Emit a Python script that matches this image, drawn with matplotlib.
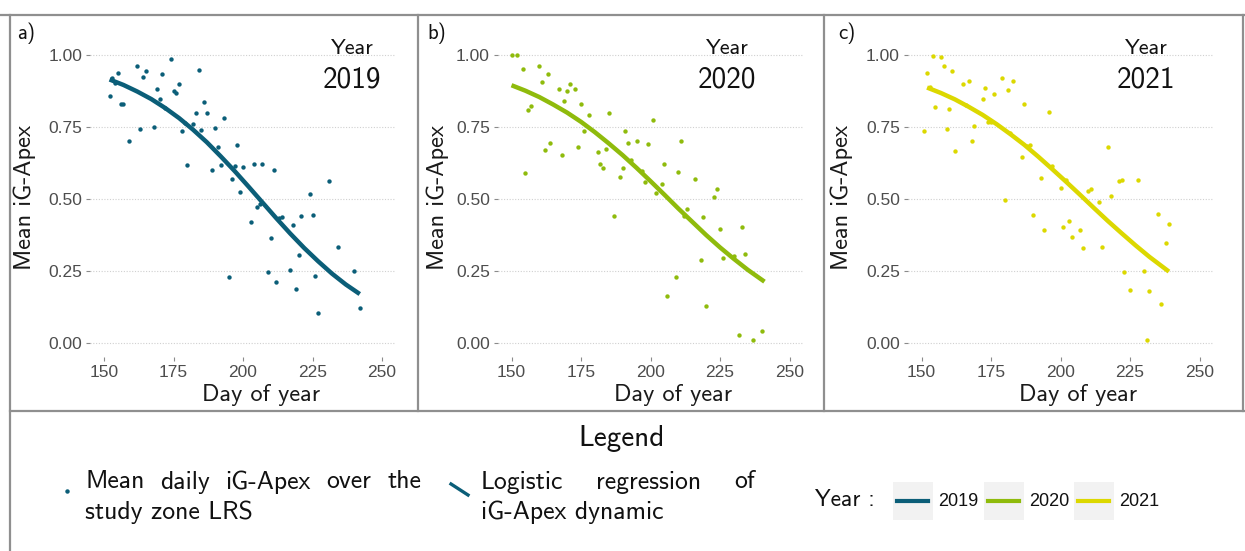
import matplotlib
matplotlib.use("Agg")
import matplotlib.pyplot as plt
from matplotlib.lines import Line2D
from matplotlib.patches import Rectangle

# --- data ---
years = ["2019", "2020", "2021"]
colors = ["#0b5e78", "#8fbb0c", "#dcd800"]
panel_tags = ["a)", "b)", "c)"]

day_2019 = [152, 153, 154, 155, 156, 157, 159, 162, 163, 164, 165, 168, 169, 170, 171, 172,
            174, 175, 176, 177, 178, 179, 180, 182, 183, 184, 185, 186, 187, 189, 190, 191,
            192, 193, 195, 196, 197, 198, 199, 200, 203, 204, 205, 206, 207, 209, 210, 211,
            212, 213, 214, 217, 218, 219, 220, 221, 224, 225, 226, 227, 231, 234, 240, 242]
apex_2019 = [0.859, 0.92, 0.904, 0.936, 0.830, 0.829, 0.702, 0.963, 0.742, 0.922, 0.943, 0.749,
             0.881, 0.846, 0.934, 0.815, 0.987, 0.875, 0.867, 0.901, 0.735, 0.763, 0.617, 0.762,
             0.797, 0.948, 0.739, 0.838, 0.799, 0.602, 0.745, 0.680, 0.618, 0.780, 0.229, 0.569,
             0.614, 0.687, 0.526, 0.610, 0.420, 0.620, 0.472, 0.482, 0.623, 0.245, 0.364, 0.600,
             0.212, 0.434, 0.439, 0.252, 0.409, 0.188, 0.304, 0.442, 0.518, 0.444, 0.231, 0.104,
             0.562, 0.333, 0.251, 0.123]

day_2020 = [150, 152, 154, 155, 156, 157, 160, 161, 162, 163, 164, 167, 168, 169, 170, 171,
            173, 174, 175, 176, 178, 181, 182, 183, 184, 185, 187, 189, 190, 191, 192, 193,
            195, 197, 198, 199, 201, 202, 204, 205, 206, 209, 210, 211, 212, 213, 216, 218,
            219, 220, 223, 224, 225, 226, 230, 232, 233, 234, 237, 240]
apex_2020 = [1.0, 1.0, 0.950, 0.590, 0.808, 0.822, 0.963, 0.905, 0.669, 0.933, 0.694, 0.883,
             0.653, 0.842, 0.876, 0.900, 0.883, 0.680, 0.831, 0.735, 0.791, 0.663, 0.621, 0.609,
             0.674, 0.798, 0.441, 0.576, 0.609, 0.736, 0.695, 0.634, 0.701, 0.597, 0.559, 0.692,
             0.776, 0.521, 0.553, 0.621, 0.163, 0.230, 0.594, 0.701, 0.440, 0.464, 0.571, 0.287,
             0.437, 0.129, 0.506, 0.534, 0.397, 0.295, 0.301, 0.028, 0.403, 0.309, 0.009, 0.043]

day_2021 = [151, 152, 153, 154, 155, 157, 158, 159, 160, 161, 162, 165, 166, 167, 168, 169,
            172, 173, 174, 175, 176, 179, 180, 181, 182, 183, 186, 187, 188, 189, 190, 193,
            194, 196, 197, 200, 201, 202, 203, 204, 207, 208, 210, 211, 214, 215, 217, 218,
            221, 222, 223, 225, 228, 230, 231, 232, 235, 236, 238, 239]
apex_2021 = [0.735, 0.936, 0.888, 0.995, 0.820, 0.992, 0.962, 0.743, 0.813, 0.945, 0.666, 0.899,
             0.828, 0.911, 0.702, 0.755, 0.846, 0.887, 0.766, 0.768, 0.866, 0.921, 0.498, 0.880,
             0.728, 0.910, 0.645, 0.829, 0.684, 0.687, 0.443, 0.572, 0.394, 0.801, 0.613, 0.539,
             0.403, 0.566, 0.423, 0.368, 0.392, 0.329, 0.528, 0.533, 0.488, 0.334, 0.681, 0.510,
             0.561, 0.565, 0.245, 0.183, 0.565, 0.250, 0.012, 0.179, 0.447, 0.134, 0.346, 0.414]

# logistic regression curves
fit_day_2019 = [152, 157, 162, 167, 172, 177, 182, 187, 192, 197, 202, 207, 212, 217, 222, 227, 232, 237, 242]
fit_2019 = [0.915, 0.896, 0.873, 0.847, 0.816, 0.781, 0.741, 0.697, 0.648, 0.597, 0.543, 0.488,
            0.433, 0.380, 0.330, 0.284, 0.241, 0.203, 0.170]
fit_day_2020 = [150, 155, 160, 165, 170, 175, 180, 185, 190, 195, 200, 205, 210, 215, 220, 225, 230, 235, 241]
fit_2020 = [0.895, 0.876, 0.854, 0.828, 0.800, 0.768, 0.732, 0.693, 0.652, 0.608, 0.562, 0.515,
            0.467, 0.421, 0.375, 0.332, 0.292, 0.254, 0.213]
fit_day_2021 = [152, 157, 162, 167, 172, 177, 182, 187, 192, 197, 202, 207, 212, 217, 222, 227, 232, 239]
fit_2021 = [0.887, 0.868, 0.846, 0.820, 0.792, 0.760, 0.725, 0.688, 0.647, 0.604, 0.560, 0.515,
            0.469, 0.424, 0.381, 0.339, 0.299, 0.248]

x_ticks = [150, 175, 200, 225, 250]
y_ticks = [0.00, 0.25, 0.50, 0.75, 1.00]

days = [day_2019, day_2020, day_2021]
apex = [apex_2019, apex_2020, apex_2021]
fit_days = [fit_day_2019, fit_day_2020, fit_day_2021]
fits = [fit_2019, fit_2020, fit_2021]

W, H = 1245, 551
TEXT_FONT = "cmss10"
TICK_FONT = "Liberation Sans"

fig = plt.figure(figsize=(W / 100, H / 100), dpi=100)


def fx(px):
    return px / W


def fy(py):
    return 1 - py / H


def fig_line(x0, y0, x1, y1, **kw):
    fig.add_artist(Line2D([fx(x0), fx(x1)], [fy(y0), fy(y1)], transform=fig.transFigure, **kw))


# panel geometry (pixels): where day 150 sits, vertical placement
panel_150 = [104, 511.5, 921.5]
px_per_day = 2.78
top_px, bot_px = 40.6, 357.4
year_x = [352, 727, 1146]
title_x = [261, 673, 1078]
ylab_x = [25, 438, 842]
tag_x = [17, 427, 838]

for i in range(3):
    left = panel_150[i] - 5 * px_per_day
    width = 110 * px_per_day
    ax = fig.add_axes([fx(left), fy(bot_px), width / W, (bot_px - top_px) / H])
    ax.set_xlim(145, 255)
    ax.set_ylim(-0.05, 1.05)
    for s in ax.spines.values():
        s.set_visible(False)
    ax.set_xticks(x_ticks)
    ax.set_yticks(y_ticks)
    ax.set_yticklabels([f"{v:.2f}" for v in y_ticks])
    ax.tick_params(axis="both", colors="#8a8a8a", length=3, width=0.8, pad=2.5,
                   labelcolor="#4d4d4d", labelsize=12.5)
    for lab in ax.get_xticklabels() + ax.get_yticklabels():
        lab.set_fontfamily(TICK_FONT)
    ax.grid(axis="y", color="#d0d0d0", linestyle=(0, (1, 1.5)), linewidth=0.8)
    ax.grid(axis="x", visible=False)
    ax.set_axisbelow(True)

    ax.scatter(days[i], apex[i], s=10, color=colors[i], linewidths=0, zorder=3)
    ax.plot(fit_days[i], fits[i], color=colors[i], linewidth=3.2,
            solid_capstyle="butt", zorder=4)

    fig.text(fx(year_x[i]), fy(48.5), "Year", family=TEXT_FONT, fontsize=16,
             ha="center", va="center", color="#111111")
    fig.text(fx(year_x[i]), fy(80), years[i], family=TEXT_FONT, fontsize=21,
             ha="center", va="center", color="#111111")
    fig.text(fx(tag_x[i]), fy(33), panel_tags[i], family=TEXT_FONT, fontsize=15,
             ha="left", va="center", color="#111111")
    fig.text(fx(title_x[i]), fy(395), "Day of year", family=TEXT_FONT, fontsize=17.5,
             ha="center", va="center", color="#1a1a1a")
    fig.text(fx(ylab_x[i]), fy(197), "Mean iG-Apex", family=TEXT_FONT, fontsize=17.5,
             ha="center", va="center", rotation=90, color="#1a1a1a")

# frame lines
frame = dict(color="#8f8f8f", linewidth=1.6)
fig_line(0, 14.5, W, 14.5, **frame)
fig_line(10, 14.5, 10, H, **frame)
fig_line(10, 411, W, 411, **frame)
fig_line(418, 14.5, 418, 411, **frame)
fig_line(824, 14.5, 824, 411, **frame)
fig_line(1243, 14.5, 1243, 411, **frame)

# legend block
fig.text(fx(621.5), fy(438.5), "Legend", family=TEXT_FONT, fontsize=21,
         ha="center", va="center", color="#111111")

legend_font = dict(family=TEXT_FONT, fontsize=18.5, va="center", ha="left", color="#111111")
renderer = fig.canvas.get_renderer()


def justified(words, x0, x1, y):
    # lay the words out so the line fills x0..x1, like justified text
    texts = [fig.text(0, fy(y), w, **legend_font) for w in words]
    widths = [t.get_window_extent(renderer).width for t in texts]
    gap = (x1 - x0 - sum(widths)) / (len(words) - 1)
    x = x0
    for t, wd in zip(texts, widths):
        t.set_x(fx(x))
        x += wd + gap


justified(["Mean", "daily", "iG-Apex", "over", "the"], 85, 421, 482)
fig.text(fx(85), fy(512), "study zone LRS", **legend_font)
justified(["Logistic", "regression", "of"], 481, 755, 482)
fig.text(fx(481), fy(512), "iG-Apex dynamic", **legend_font)

fig.add_artist(Line2D([fx(67)], [fy(491)], marker="o", markersize=2.2, color=colors[0],
                      linestyle="none", transform=fig.transFigure))
fig_line(451, 484, 468, 495, color=colors[0], linewidth=2.4)

fig.text(fx(815), fy(500), "Year :", family=TEXT_FONT, fontsize=17,
         ha="left", va="center", color="#111111")
key_left = [893, 984, 1074]
for i in range(3):
    x0 = key_left[i]
    fig.add_artist(Rectangle((fx(x0), fy(520)), 40 / W, 38 / H, facecolor="#f2f2f2",
                             edgecolor="none", transform=fig.transFigure))
    fig_line(x0 + 4, 500.5, x0 + 35, 500.5, color=colors[i], linewidth=3)
    fig.text(fx(x0 + 45), fy(501), years[i], family=TICK_FONT, fontsize=13,
             ha="left", va="center", color="#111111")

fig.savefig("out.png", dpi=100, facecolor="white")
